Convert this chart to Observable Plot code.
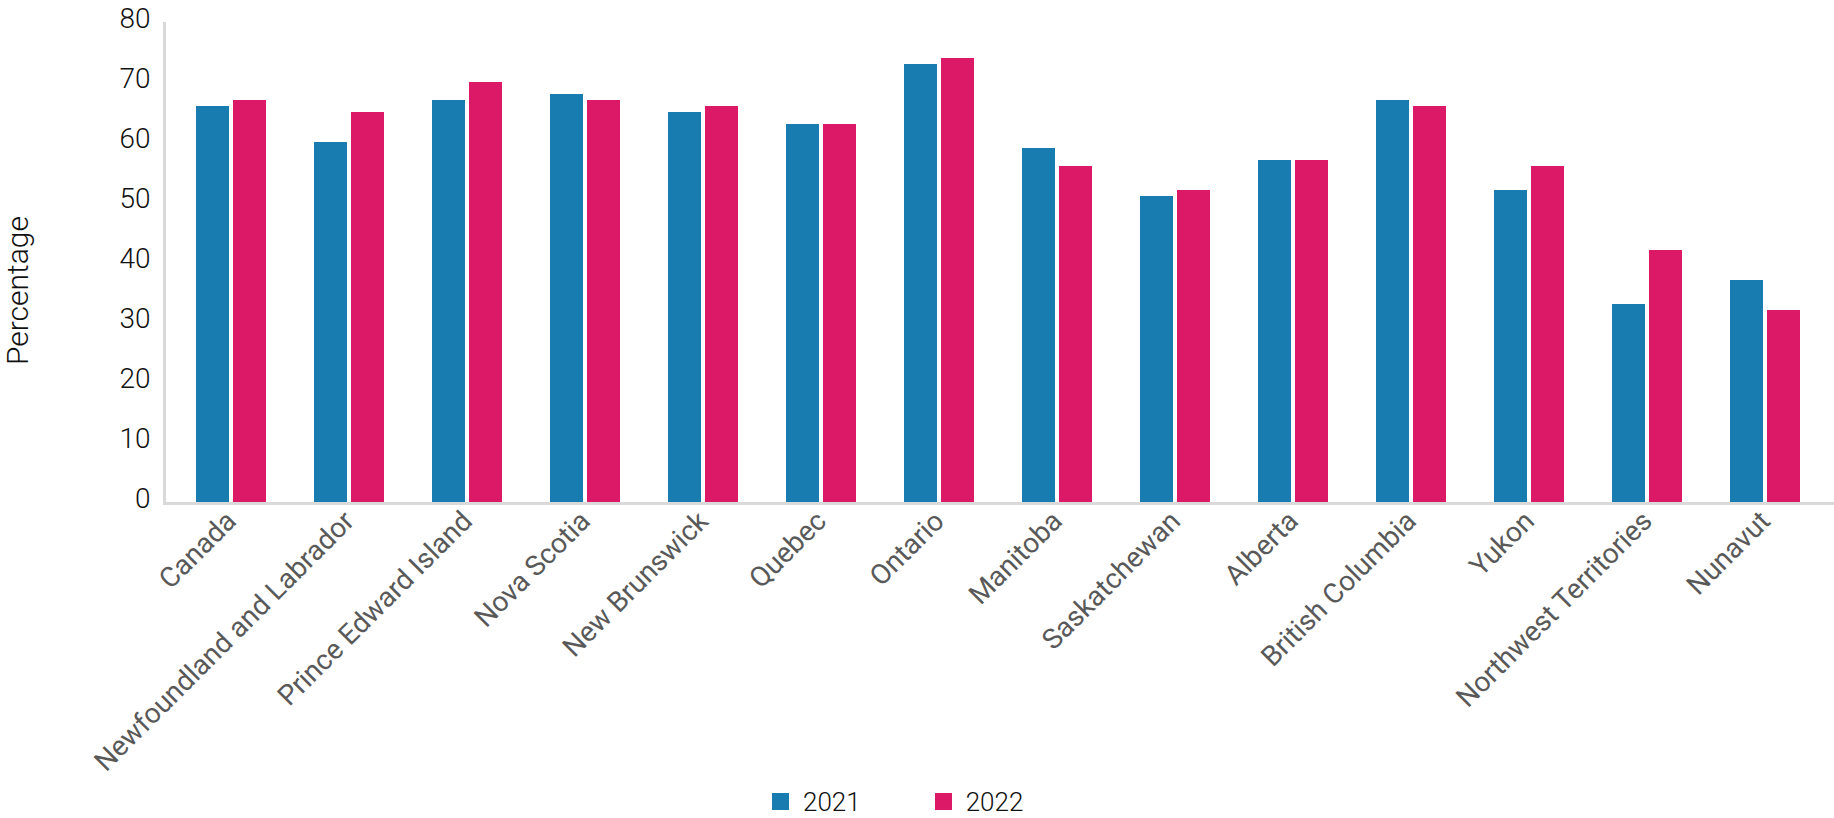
<!DOCTYPE html>
<html>
<head>
<meta charset="utf-8">
<script src="https://cdn.jsdelivr.net/npm/d3@7"></script>
<script src="https://cdn.jsdelivr.net/npm/@observablehq/plot@0.6"></script>
<style>
  html, body { margin: 0; padding: 0; background: #fff; }
  #legend { display: flex; align-items: center; padding-left: 772px; height: 33px; font-family: Roboto, sans-serif; font-weight: 300; font-size: 26px; color: #111; }
  .item { display: flex; align-items: center; margin-right: 74px; }
  .sw { width: 17px; height: 17px; margin-right: 14px; }
</style>
</head>
<body>
<div id="chart"></div>
<div id="legend"></div>
<script>
const provinces = ["Canada", "Newfoundland and Labrador", "Prince Edward Island", "Nova Scotia", "New Brunswick", "Quebec", "Ontario", "Manitoba", "Saskatchewan", "Alberta", "British Columbia", "Yukon", "Northwest Territories", "Nunavut"];
const values2021 = [66, 60, 67, 68, 65, 63, 73, 59, 51, 57, 67, 52, 33, 37];
const values2022 = [67, 65, 70, 67, 66, 63, 74, 56, 52, 57, 66, 56, 42, 32];
const years = ["2021", "2022"];
const colors = ["#187cb0", "#dc1966"];
const yTicks = [0, 10, 20, 30, 40, 50, 60, 70, 80];
const yLabel = "Percentage";

const data = provinces.flatMap((p, i) => [
  {province: p, year: years[0], value: values2021[i]},
  {province: p, year: years[1], value: values2022[i]}
]);

const chart = Plot.plot({
  width: 1834,
  height: 785,
  marginTop: 22,
  marginBottom: 283,
  marginLeft: 163,
  marginRight: 1,
  style: {fontFamily: "Roboto, sans-serif", background: "#fff", overflow: "visible"},
  fx: {domain: provinces, paddingInner: 0, paddingOuter: 0.06, label: null},
  x: {domain: years, paddingInner: 0.1, paddingOuter: 0.61, axis: null},
  y: {domain: [0, 80]},
  color: {domain: years, range: colors},
  marks: [
    Plot.barY(data, {fx: "province", x: "year", y: "value", fill: "year"}),
    Plot.axisY({ticks: yTicks, tickSize: 0, tickPadding: 22, fontSize: 28, fontWeight: 300, fill: "#111", dy: -3,
      label: yLabel, labelAnchor: "center", labelOffset: 166, labelArrow: "none"}),
    Plot.axisFx({anchor: "bottom", tickSize: 0, tickRotate: -45, tickPadding: 14, fontSize: 28, fill: "#595959", label: null})
  ]
});
document.getElementById("chart").appendChild(chart);

// axis lines drawn from the plot's own scales
const fx = chart.scale("fx"), y = chart.scale("y");
const svg = d3.select(chart);
const y0 = y.apply(0) + 1.5;
svg.append("line").attr("x1", fx.range[0]).attr("x2", fx.range[1] + 1).attr("y1", y0).attr("y2", y0)
  .attr("stroke", "#d9d9d9").attr("stroke-width", 3);
svg.append("line").attr("x1", fx.range[0] + 1.5).attr("x2", fx.range[0] + 1.5).attr("y1", y.apply(80)).attr("y2", y0)
  .attr("stroke", "#d9d9d9").attr("stroke-width", 3);
svg.selectAll("g[aria-label='y-axis label']").attr("font-size", 30).attr("font-weight", 300).attr("fill", "#111");
svg.selectAll("g[aria-label='y-axis label'] text").attr("dx", -28);

const legend = d3.select("#legend");
years.forEach((yr, i) => {
  const it = legend.append("div").attr("class", "item");
  it.append("div").attr("class", "sw").style("background", colors[i]);
  it.append("span").text(yr);
});
</script>
</body>
</html>
